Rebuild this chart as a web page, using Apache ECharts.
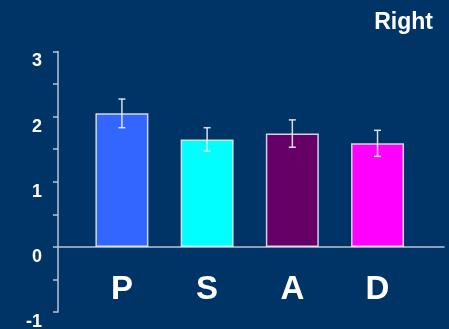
<!DOCTYPE html>
<html>
<head>
<meta charset="utf-8">
<script src="https://cdn.jsdelivr.net/npm/echarts@6/dist/echarts.min.js"></script>
<style>
  html, body { margin: 0; padding: 0; background: #003366; }
  #chart { width: 449px; height: 329px; }
</style>
</head>
<body>
<div id="chart"></div>
<script>
// Group names, mean scores and error half-widths
const categories = ['P', 'S', 'A', 'D'];
const means = [2.05, 1.65, 1.74, 1.59];
const errors = [0.22, 0.18, 0.21, 0.20];
const barColors = ['#3366FF', '#00FFFF', '#660066', '#FF00FF'];
const yTicks = [-1, 0, 1, 2, 3];

const FONT = '"Liberation Sans", Arial, sans-serif';

// bars sit at x = 1..4 on a plain value axis so the axis line can run past them
const barData = means.map((v, i) => ({
  value: [i + 1, v],
  itemStyle: { color: barColors[i] }
}));
const errData = means.map((v, i) => [i + 1, v - errors[i], v + errors[i]]);

const chart = echarts.init(document.getElementById('chart'), null, { renderer: 'canvas' });

chart.setOption({
  backgroundColor: '#003366',
  animation: false,
  title: {
    text: 'Right',
    right: 11,
    top: 6,
    textStyle: { color: '#ffffff', fontFamily: FONT, fontWeight: 'bold', fontSize: 23 }
  },
  grid: { left: 58, right: 5, top: 51.5, bottom: 17, containLabel: false, outerBoundsMode: 'none' },
  xAxis: {
    type: 'value',
    min: 0.25,
    max: 4.78,
    splitLine: { show: false },
    axisLine: { show: true, onZero: true, lineStyle: { color: '#b8c4d6', width: 1.5 } },
    axisTick: { show: false },
    axisLabel: {
      customValues: [1, 2, 3, 4],
      formatter: v => categories[Math.round(v) - 1] || '',
      color: '#ffffff',
      fontFamily: FONT,
      fontWeight: 'bold',
      fontSize: 33,
      margin: -39
    }
  },
  yAxis: {
    type: 'value',
    min: yTicks[0],
    max: yTicks[yTicks.length - 1],
    interval: 1,
    splitLine: { show: false },
    axisLine: { show: true, lineStyle: { color: '#b8c4d6', width: 1.5 } },
    axisTick: { show: true, length: 5, lineStyle: { color: '#b8c4d6', width: 1.5 } },
    minorTick: { show: true, splitNumber: 2, length: 5, lineStyle: { color: '#b8c4d6', width: 1.5 } },
    axisLabel: {
      color: '#ffffff',
      fontFamily: FONT,
      fontWeight: 'bold',
      fontSize: 18,
      margin: 16,
      verticalAlign: 'top',
      padding: [1, 0, 0, 0]
    }
  },
  series: [
    {
      type: 'bar',
      data: barData,
      barWidth: 53,
      itemStyle: { borderColor: 'rgba(225,232,245,0.9)', borderWidth: 1.5 }
    },
    {
      type: 'custom',
      data: errData,
      z: 5,
      renderItem: function (params, api) {
        const x = api.value(0);
        const lo = api.coord([x, api.value(1)]);
        const hi = api.coord([x, api.value(2)]);
        const cap = 3.5;
        const style = { stroke: 'rgba(235,240,250,0.9)', lineWidth: 1.5 };
        return {
          type: 'group',
          children: [
            { type: 'line', shape: { x1: hi[0], y1: hi[1], x2: lo[0], y2: lo[1] }, style },
            { type: 'line', shape: { x1: hi[0] - cap, y1: hi[1], x2: hi[0] + cap, y2: hi[1] }, style },
            { type: 'line', shape: { x1: lo[0] - cap, y1: lo[1], x2: lo[0] + cap, y2: lo[1] }, style }
          ]
        };
      }
    }
  ]
});
</script>
</body>
</html>
